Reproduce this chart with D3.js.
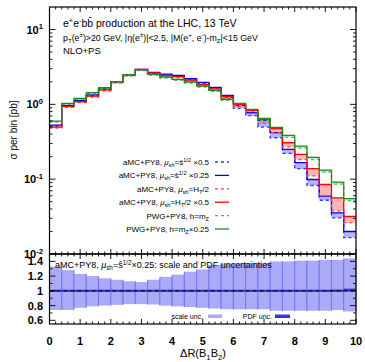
<!DOCTYPE html>
<html>
<head>
<meta charset="utf-8">
<script src="https://cdn.jsdelivr.net/npm/d3@7"></script>
<style>
  body { margin: 0; background: #fff; }
  svg { font-family: "Liberation Sans", Arial, sans-serif; }
</style>
</head>
<body>
<svg id="chart" width="365" height="362"></svg>
<script>
// bins in Delta R, width 0.4
const binEdges = d3.range(26).map(i => i * 0.4);

// upper panel, sigma per bin [pb]
const amcSqrtS05  = [0.512,0.941,1.096,1.30,1.562,1.95,2.425,2.85,2.60,2.46,2.37,2.14,1.91,1.64,1.241,0.885,0.706,0.497,0.358,0.221,0.138,0.0823,0.0523,0.0304,0.0166];
const amcSqrtS025 = [0.528,0.97,1.13,1.34,1.61,2.01,2.50,2.94,2.68,2.54,2.44,2.21,1.97,1.69,1.32,0.97,0.774,0.616,0.418,0.250,0.166,0.099,0.0592,0.0355,0.020];
const amcHt       = [0.482,0.911,1.054,1.251,1.516,1.94,2.41,2.85,2.56,2.37,2.28,2.05,1.769,1.516,1.203,0.94,0.758,0.557,0.418,0.271,0.183,0.111,0.0604,0.0378,0.0263];
const amcHt05     = [0.497,0.940,1.087,1.291,1.564,2.001,2.483,2.942,2.641,2.445,2.349,2.115,1.852,1.613,1.280,1.0,0.831,0.630,0.473,0.307,0.214,0.138,0.0849,0.0564,0.0317];
const pwgMz       = [0.58,1.0,1.167,1.391,1.623,1.953,2.423,2.827,2.445,2.25,2.096,1.928,1.705,1.493,1.135,0.968,0.806,0.611,0.462,0.362,0.26,0.183,0.124,0.0857,0.0518];
const pwgMz025    = [0.598,1.031,1.203,1.434,1.673,2.013,2.498,2.914,2.521,2.320,2.161,1.988,1.758,1.539,1.17,1.03,0.857,0.650,0.492,0.385,0.2765,0.1952,0.132,0.0912,0.0551];

// lower panel, ratio to central aMC+PY8 sqrt(s)*0.25
const scaleHi = [1.33,1.28,1.23,1.20,1.17,1.15,1.13,1.12,1.15,1.19,1.22,1.26,1.29,1.35,1.37,1.375,1.38,1.38,1.40,1.40,1.41,1.41,1.42,1.42,1.44];
const scaleLo = [0.74,0.74,0.77,0.79,0.80,0.81,0.82,0.82,0.815,0.80,0.79,0.78,0.77,0.76,0.75,0.75,0.75,0.75,0.73,0.73,0.73,0.73,0.73,0.74,0.72];
const pdfHi   = [1.015,1.015,1.015,1.015,1.015,1.015,1.015,1.015,1.015,1.015,1.015,1.015,1.015,1.015,1.015,1.015,1.015,1.015,1.015,1.015,1.015,1.015,1.015,1.018,1.03];
const pdfLo   = [0.985,0.985,0.985,0.985,0.985,0.985,0.985,0.985,0.985,0.985,0.985,0.985,0.985,0.985,0.985,0.985,0.985,0.985,0.985,0.985,0.985,0.985,0.985,0.985,0.99];

const xTicks = d3.range(0, 11);
const yTopTicks = [0.01, 0.1, 1, 10];
const yRatTicks = [0.6, 0.8, 1, 1.2, 1.4];

const svg = d3.select("#chart");
const L = 49.5, R = 356, T = 7, MID = 254, B = 324;

const x = d3.scaleLinear().domain([0, 10]).range([L, R]);
const yTop = d3.scaleLog().domain([0.01, 20]).range([MID, T]);
const yRat = d3.scaleLinear().domain([0.55, 1.5]).range([B, MID]);

// text with sub/superscripts: parts = [[text, "sup"|"sub"|""|"it"], ...]
function rich(g, px, py, parts, size, anchor, weight) {
  const t = g.append("text").attr("x", px).attr("y", py)
    .attr("font-size", size).attr("text-anchor", anchor || "start")
    .attr("font-weight", weight || "normal").attr("fill", "#000");
  let shift = 0;
  parts.forEach(([s, k]) => {
    const sp = t.append("tspan").text(s);
    let want = 0;
    if (k === "sup") want = -size * 0.38;
    if (k === "sub") want = size * 0.25;
    sp.attr("dy", want - shift);
    shift = want;
    if (k === "sup" || k === "sub") sp.attr("font-size", size * 0.7);
    if (k === "it") sp.attr("font-style", "italic");
  });
  return t;
}

svg.append("defs").append("clipPath").attr("id", "clipTop")
  .append("rect").attr("x", L).attr("y", T).attr("width", R - L).attr("height", MID - T);

// ---------- upper panel ----------
const pts = vals => vals.map((v, i) => [binEdges[i], v]).concat([[10, vals[vals.length - 1]]]);
const stepLine = d3.line().x(d => x(d[0])).y(d => yTop(d[1])).curve(d3.curveStepAfter);
const stepArea = d3.area().x(d => x(d[0])).y0(d => yTop(d[1])).y1(d => yTop(d[2])).curve(d3.curveStepAfter);
const band = (a, b) => a.map((v, i) => [binEdges[i], v, b[i]]).concat([[10, a[a.length - 1], b[b.length - 1]]]);

const upper = svg.append("g").attr("clip-path", "url(#clipTop)");
upper.append("path").attr("d", stepArea(band(pwgMz, pwgMz025))).attr("fill", "rgba(90,180,90,0.3)");
upper.append("path").attr("d", stepArea(band(amcSqrtS05, amcSqrtS025))).attr("fill", "rgba(90,90,255,0.45)");
upper.append("path").attr("d", stepArea(band(amcHt, amcHt05))).attr("fill", "rgba(255,90,90,0.45)");

const series = [
  { vals: amcSqrtS05,  color: "#3030ff", dash: "3,3" },
  { vals: amcSqrtS025, color: "#0000ff", dash: null },
  { vals: amcHt,       color: "#ff4040", dash: "3,3" },
  { vals: amcHt05,     color: "#ff0000", dash: null },
  { vals: pwgMz,       color: "#5ab35a", dash: "3,3" },
  { vals: pwgMz025,    color: "#1a8c1a", dash: null }
];
series.forEach(s => {
  upper.append("path").attr("d", stepLine(pts(s.vals)))
    .attr("fill", "none").attr("stroke", s.color).attr("stroke-width", 1.3)
    .attr("stroke-dasharray", s.dash);
});

// header text
rich(svg, 63, 27, [["e", ""], ["+", "sup"], ["e", ""], ["-", "sup"], ["bb\u0304 production at the LHC, 13 TeV", ""]], 10.5);
rich(svg, 63, 40.5, [["p", ""], ["T", "sub"], ["(e", ""], ["\u00b1", "sup"], [")>20 GeV, |\u03b7(e", ""], ["\u00b1", "sup"],
  [")|<2.5, |M(e", ""], ["+", "sup"], [", e", ""], ["-", "sup"], [")-m", ""], ["Z", "sub"], ["|<15 GeV", ""]], 8.8);
rich(svg, 63, 54, [["NLO+PS", ""]], 9.5);

// legend
const legendRows = [
  [["aMC+PY8, ", ""], ["\u03bc", "it"], ["sh", "sub"], ["=s\u0302", ""], ["1/2", "sup"], [" \u00d70.5", ""]],
  [["aMC+PY8, ", ""], ["\u03bc", "it"], ["sh", "sub"], ["=s\u0302", ""], ["1/2", "sup"], [" \u00d70.25", ""]],
  [["aMC+PY8, ", ""], ["\u03bc", "it"], ["sh", "sub"], ["=H", ""], ["T", "sub"], ["/2", ""]],
  [["aMC+PY8, ", ""], ["\u03bc", "it"], ["sh", "sub"], ["=H", ""], ["T", "sub"], ["/2 \u00d70.5", ""]],
  [["PWG+PY8, h=m", ""], ["Z", "sub"]],
  [["PWG+PY8, h=m", ""], ["Z", "sub"], ["\u00d70.25", ""]]
];
legendRows.forEach((parts, i) => {
  const ly = 162 + i * 13.4;
  rich(svg, 209, ly + 3, parts, 8, "end");
  svg.append("line").attr("x1", 215).attr("x2", 229).attr("y1", ly).attr("y2", ly)
    .attr("stroke", series[i].color).attr("stroke-width", 1.3)
    .attr("stroke-dasharray", series[i].dash);
});

// ---------- lower panel ----------
const low = svg.append("g");
scaleHi.forEach((hi, i) => {
  const x0 = x(binEdges[i]), x1 = x(binEdges[i + 1]);
  low.append("rect").attr("x", x0).attr("width", x1 - x0)
    .attr("y", yRat(hi)).attr("height", yRat(scaleLo[i]) - yRat(hi))
    .attr("fill", "#aaaaf8");
  [x0, x1].forEach(xx => low.append("line").attr("x1", xx).attr("x2", xx)
    .attr("y1", yRat(hi)).attr("y2", yRat(scaleLo[i]))
    .attr("stroke", "#7272ee").attr("stroke-width", 0.9));
});
pdfHi.forEach((hi, i) => {
  const x0 = x(binEdges[i]), x1 = x(binEdges[i + 1]);
  low.append("rect").attr("x", x0).attr("width", x1 - x0)
    .attr("y", yRat(hi)).attr("height", yRat(pdfLo[i]) - yRat(hi))
    .attr("fill", "#3434ee");
});
low.append("line").attr("x1", L).attr("x2", R).attr("y1", yRat(1)).attr("y2", yRat(1))
  .attr("stroke", "#000").attr("stroke-width", 1).attr("stroke-dasharray", "4,3");

rich(svg, 55, 268, [["aMC+PY8, ", ""], ["\u03bc", "it"], ["sh", "sub"], ["=s\u0302", ""], ["1/2", "sup"], ["\u00d70.25: scale and PDF uncertainties", ""]], 9);

// lower legend
svg.append("text").attr("x", 203).attr("y", 318.5).attr("font-size", 7).attr("text-anchor", "end").text("scale unc.");
svg.append("rect").attr("x", 208).attr("y", 314.5).attr("width", 14).attr("height", 3.5).attr("fill", "#aaaaf8");
svg.append("text").attr("x", 272).attr("y", 318.5).attr("font-size", 7).attr("text-anchor", "end").text("PDF unc.");
svg.append("rect").attr("x", 275).attr("y", 314.5).attr("width", 15).attr("height", 3.5).attr("fill", "#3434ee");

// ---------- frames & ticks ----------
const xMinor = d3.range(0, 10.01, 0.2).map(v => +v.toFixed(1));
function drawXTicks(yPos, dir) {
  xMinor.forEach(v => {
    const len = Number.isInteger(v) ? 5 : 2.5;
    svg.append("line").attr("x1", x(v)).attr("x2", x(v))
      .attr("y1", yPos).attr("y2", yPos + dir * len).attr("stroke", "#000").attr("stroke-width", 0.9);
  });
}
drawXTicks(MID, -1); drawXTicks(T, 1); drawXTicks(B, -1); drawXTicks(MID, 1);

const logMinor = [];
[-2, -1, 0, 1].forEach(k => d3.range(1, 10).forEach(m => {
  const v = m * Math.pow(10, k);
  if (v >= 0.01 && v < 20) logMinor.push(v);
}));
logMinor.forEach(v => {
  const major = yTopTicks.some(t => Math.abs(t - v) < 1e-9);
  const len = major ? 6 : 3;
  [[L, 1], [R, -1]].forEach(([xp, dir]) => svg.append("line")
    .attr("x1", xp).attr("x2", xp + dir * len).attr("y1", yTop(v)).attr("y2", yTop(v))
    .attr("stroke", "#000").attr("stroke-width", 0.9));
});
const ratMinor = d3.range(6, 15).map(v => v / 10);
ratMinor.forEach(v => {
  const major = yRatTicks.some(t => Math.abs(t - v) < 1e-9);
  const len = major ? 6 : 3;
  [[L, 1], [R, -1]].forEach(([xp, dir]) => svg.append("line")
    .attr("x1", xp).attr("x2", xp + dir * len).attr("y1", yRat(v)).attr("y2", yRat(v))
    .attr("stroke", "#000").attr("stroke-width", 0.9));
});

svg.append("rect").attr("x", L).attr("y", T).attr("width", R - L).attr("height", MID - T)
  .attr("fill", "none").attr("stroke", "#000").attr("stroke-width", 1.2);
svg.append("rect").attr("x", L).attr("y", MID).attr("width", R - L).attr("height", B - MID)
  .attr("fill", "none").attr("stroke", "#000").attr("stroke-width", 1.2);

// tick labels
yTopTicks.forEach(v => {
  const e = Math.round(Math.log10(v));
  rich(svg, 43, yTop(v) + 4, [["10", ""], [String(e), "sup"]], 11, "end", "bold");
});
yRatTicks.forEach(v => {
  svg.append("text").attr("x", 43).attr("y", yRat(v) + 4).attr("font-size", 11)
    .attr("font-weight", "bold").attr("text-anchor", "end")
    .text(v === 1 ? "1" : d3.format(".1f")(v));
});
xTicks.forEach(v => {
  svg.append("text").attr("x", x(v)).attr("y", 345).attr("font-size", 11)
    .attr("font-weight", "bold").attr("text-anchor", "middle").text(v);
});

// axis titles
rich(svg, 203, 357, [["\u0394R(B", ""], ["1", "sub"], ["B", ""], ["2", "sub"], [")", ""]], 11, "middle");
svg.append("text").attr("transform", "translate(17,130) rotate(-90)")
  .attr("font-size", 10).attr("text-anchor", "middle").text("\u03c3 per bin [pb]");
</script>
</body>
</html>
